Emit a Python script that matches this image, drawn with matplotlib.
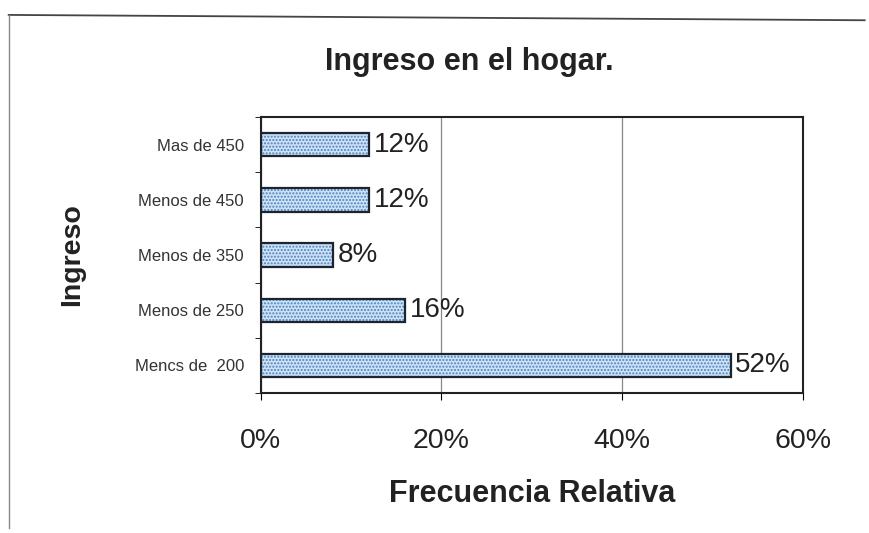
import matplotlib.pyplot as plt
import numpy as np

categorias = ['Mencs de  200', 'Menos de 250', 'Menos de 350', 'Menos de 450', 'Mas de 450']
frecuencia = [52, 16, 8, 12, 12]
xticks = [0, 20, 40, 60]

fig = plt.figure(figsize=(8.69, 5.33), dpi=100)
ax = fig.add_axes([0.300, 0.263, 0.624, 0.517])

y = np.arange(len(categorias))
# relleno punteado
ax.barh(y, frecuencia, height=0.42, color='#cfe2f5', edgecolor='#4a82c0',
        hatch='.....', linewidth=0, zorder=2)
# contorno
ax.barh(y, frecuencia, height=0.42, fill=False, edgecolor='#1c2430',
        linewidth=1.6, zorder=3)

for yi, v in zip(y, frecuencia):
    ax.text(v + 0.5, yi, f'{v}%', va='center', ha='left', fontsize=20,
            color='#222222', family='Liberation Sans')

ax.set_xlim(0, 60)
ax.set_ylim(-0.5, len(categorias) - 0.5)
ax.set_xticks(xticks)
ax.set_xticklabels([f'{t}%' for t in xticks], fontsize=20.5, family='Liberation Sans',
                   color='#222222')
ax.set_yticks(y)
ax.set_yticklabels(categorias, fontsize=12, family='Liberation Sans', color='#333333')
ax.set_yticks(np.arange(-0.5, len(categorias)), minor=True)
ax.tick_params(axis='y', which='major', length=0, pad=12)
ax.tick_params(axis='y', which='minor', length=4, direction='out')
ax.tick_params(axis='x', length=5, direction='out', pad=20)
ax.xaxis.grid(True, color='#888888', linewidth=0.9)
ax.set_axisbelow(True)
for s in ax.spines.values():
    s.set_linewidth(1.5)
    s.set_color('#222222')

ax.set_xlabel('Frecuencia Relativa', fontsize=22, fontweight='bold',
              family='Liberation Sans', labelpad=18, color='#222222')
ax.set_ylabel('Ingreso', fontsize=20.5, fontweight='bold', family='Liberation Sans',
              color='#222222')
ax.yaxis.set_label_coords(-0.323, 0.5)
fig.text(0.54, 0.884, 'Ingreso en el hogar.', ha='center', va='center', fontsize=22,
         fontweight='bold', family='Liberation Sans', color='#222222')

# marco de la hoja escaneada
fig.add_artist(plt.Line2D([0.01, 0.995], [0.972, 0.962], color='#444444', linewidth=1.3))
fig.add_artist(plt.Line2D([0.01, 0.01], [0.972, 0.01], color='#888888', linewidth=1.0))

fig.savefig('out.png', dpi=100)
